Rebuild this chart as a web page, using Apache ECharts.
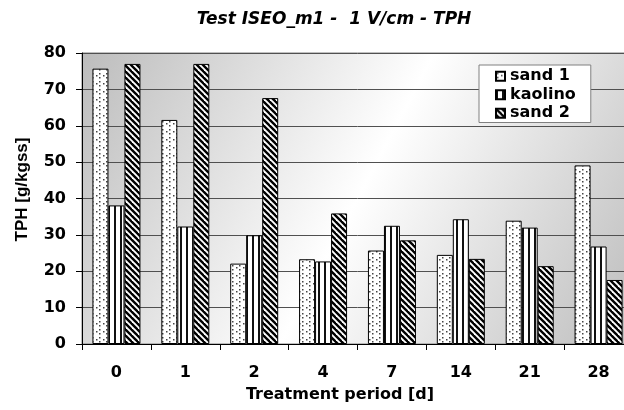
<!DOCTYPE html>
<html>
<head>
<meta charset="utf-8" />
<title>Test ISEO_m1 - TPH</title>
<style type="text/css">
html,body{margin:0;padding:0;overflow:hidden;}
/* plot runs a little past the right edge in the original, so the box is wider than the window */
#chart{width:640px;height:410px;}
</style>
<script src="https://cdn.jsdelivr.net/npm/echarts@6/dist/echarts.min.js"></script>
</head>
<body>
<div id="chart"></div>
<script type="text/javascript">
// data
var days = ['0', '1', '2', '4', '7', '14', '21', '28'];
var sand1 = [75.7, 61.6, 22.1, 23.3, 25.7, 24.5, 33.9, 49.1];
var kaolino = [38.1, 32.3, 29.9, 22.7, 32.5, 34.3, 32.0, 26.8];
var sand2 = [77.0, 77.0, 67.6, 35.9, 28.5, 23.4, 21.4, 17.6];
var seriesNames = ['sand 1', 'kaolino', 'sand 2'];

var WIDE = 'DejaVu Sans, sans-serif';
var NARROW = 'Liberation Sans, Arial, sans-serif';

// little tiles for the hatch fills
function makeTile(w, h, draw) {
    var c = document.createElement('canvas');
    c.width = w; c.height = h;
    var ctx = c.getContext('2d');
    ctx.fillStyle = '#fff';
    ctx.fillRect(0, 0, w, h);
    draw(ctx);
    return { image: c, repeat: 'repeat' };
}
var dots = makeTile(7, 8, function (ctx) {
    ctx.fillStyle = '#444';
    ctx.fillRect(1, 1, 1.5, 1.5);
    ctx.fillRect(1, 5, 1.5, 1.5);
    ctx.fillRect(5, 3, 1.5, 1.5);
});
var vlines = makeTile(6, 4, function (ctx) {
    ctx.fillStyle = '#111';
    ctx.fillRect(0, 0, 2, 4);
});
var diag = makeTile(6, 6, function (ctx) {
    ctx.strokeStyle = '#000';
    ctx.lineWidth = 2.4;
    for (var k = -6; k <= 6; k += 6) {
        ctx.beginPath();
        ctx.moveTo(k - 1, -1);
        ctx.lineTo(k + 7, 7);
        ctx.stroke();
    }
});
var fills = [dots, vlines, diag];
var values = [sand1, kaolino, sand2];

var myChart = echarts.init(document.getElementById('chart'));

var series = [];
for (var i = 0; i < 3; i++) {
    series.push({
        name: seriesNames[i],
        type: 'bar',
        barWidth: 16,
        barGap: '0%',
        itemStyle: { color: fills[i], borderColor: '#000', borderWidth: 1 },
        data: values[i]
    });
}

var option = {
    backgroundColor: '#fff',
    animation: false,
    title: {
        text: 'Test ISEO_m1 -  1 V/cm - TPH',
        left: 329,
        top: 6,
        textAlign: 'center',
        textStyle: { fontFamily: WIDE, fontSize: 17, fontWeight: 'bold', fontStyle: 'italic', color: '#000' }
    },
    legend: {
        data: seriesNames,
        orient: 'vertical',
        left: 479,
        top: 65,
        padding: [2, 15, 0, 16],
        itemGap: 0,
        itemWidth: 9,
        itemHeight: 9,
        icon: 'rect',
        backgroundColor: '#fff',
        borderColor: '#808080',
        borderWidth: 1,
        textStyle: { fontFamily: WIDE, fontSize: 16, fontWeight: 'bold', color: '#000', lineHeight: 18.5, padding: [0, 0, 0, 0] }
    },
    grid: {
        left: 82,
        top: 53,
        width: 551,
        height: 291,
        show: true,
        borderColor: '#808080',
        borderWidth: 1,
        backgroundColor: new echarts.graphic.LinearGradient(0, 0, 1, 1, [
            { offset: 0, color: '#bcbcbc' },
            { offset: 0.5, color: '#ffffff' },
            { offset: 1, color: '#bcbcbc' }
        ])
    },
    xAxis: {
        type: 'category',
        data: days,
        name: 'Treatment period [d]',
        nameLocation: 'middle',
        nameGap: 43,
        nameTextStyle: { fontFamily: WIDE, fontSize: 16, fontWeight: 'bold', color: '#000', padding: [0, 35, 0, 0] },
        axisLine: { lineStyle: { color: '#000', width: 1 } },
        axisTick: { show: true, length: 6, lineStyle: { color: '#000' } },
        axisLabel: { margin: 21, fontFamily: WIDE, fontSize: 16, fontWeight: 'bold', color: '#000' },
        splitLine: { show: false }
    },
    yAxis: {
        type: 'value',
        min: 0,
        max: 80,
        interval: 10,
        name: 'TPH [g/kgss]',
        nameLocation: 'middle',
        nameGap: 51,
        nameTextStyle: { fontFamily: NARROW, fontSize: 17, fontWeight: 'bold', color: '#000', padding: [0, 0, 0, 18] },
        axisLine: { show: true, lineStyle: { color: '#000', width: 1 } },
        axisTick: { show: true, length: 6, lineStyle: { color: '#000' } },
        axisLabel: { margin: 16, fontFamily: WIDE, fontSize: 16, fontWeight: 'bold', color: '#000' },
        splitLine: { lineStyle: { color: '#505050', width: 1 } }
    },
    series: series
};
myChart.setOption(option);
</script>
</body>
</html>
